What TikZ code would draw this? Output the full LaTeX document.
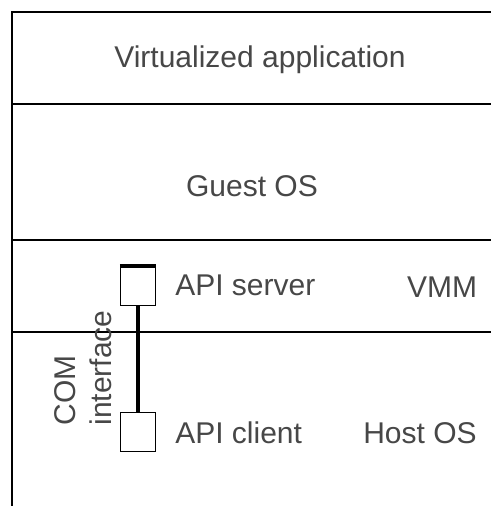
\documentclass[tikz,border=0pt]{standalone}
\usepackage{fontspec}
\setmainfont{Liberation Sans}
\usepackage{tikz}
\usetikzlibrary{positioning}

\begin{document}
\begin{tikzpicture}[
  x=0.75pt, y=-0.75pt,
  layer/.style={line width=1.5pt, draw=black},
  lbl/.style={text=black!72, font=\fontsize{22.5}{27}\selectfont, inner sep=0pt},
  port/.style={draw, line width=1.2pt, fill=white, minimum width=26pt, minimum height=29pt, inner sep=0pt}
]
\useasboundingbox (0,0) rectangle (491,506);
% frame and layer borders
\draw[layer] (491,12) -- (12,12) -- (12,506);
\draw[layer] (12,104) -- (491,104);
\draw[layer] (12,240) -- (491,240);
\draw[layer] (12,332) -- (491,332);

\node[lbl] (app) at (260,60) {Virtualized application};
\node[lbl] (guest) at (252,186) {Guest OS};

\node[port] (srv) at (138,286) {};
\node[port] (cli) at (138,432) {};
\draw[line width=3pt] (srv.north west) -- (srv.north east);
\draw[line width=3.2pt] (srv.south) -- (cli.north);

\node[lbl, anchor=west] (srvtxt) at (175,285) {API server};
\node[lbl, anchor=west] (clitxt) at (175,433) {API client};
\node[lbl] (vmm) at (442,287) {VMM};
\node[lbl] (host) at (420,433) {Host OS};
\node[lbl, rotate=90, align=left] (com) at (83,368) {COM\\interface};
\end{tikzpicture}
\end{document}
